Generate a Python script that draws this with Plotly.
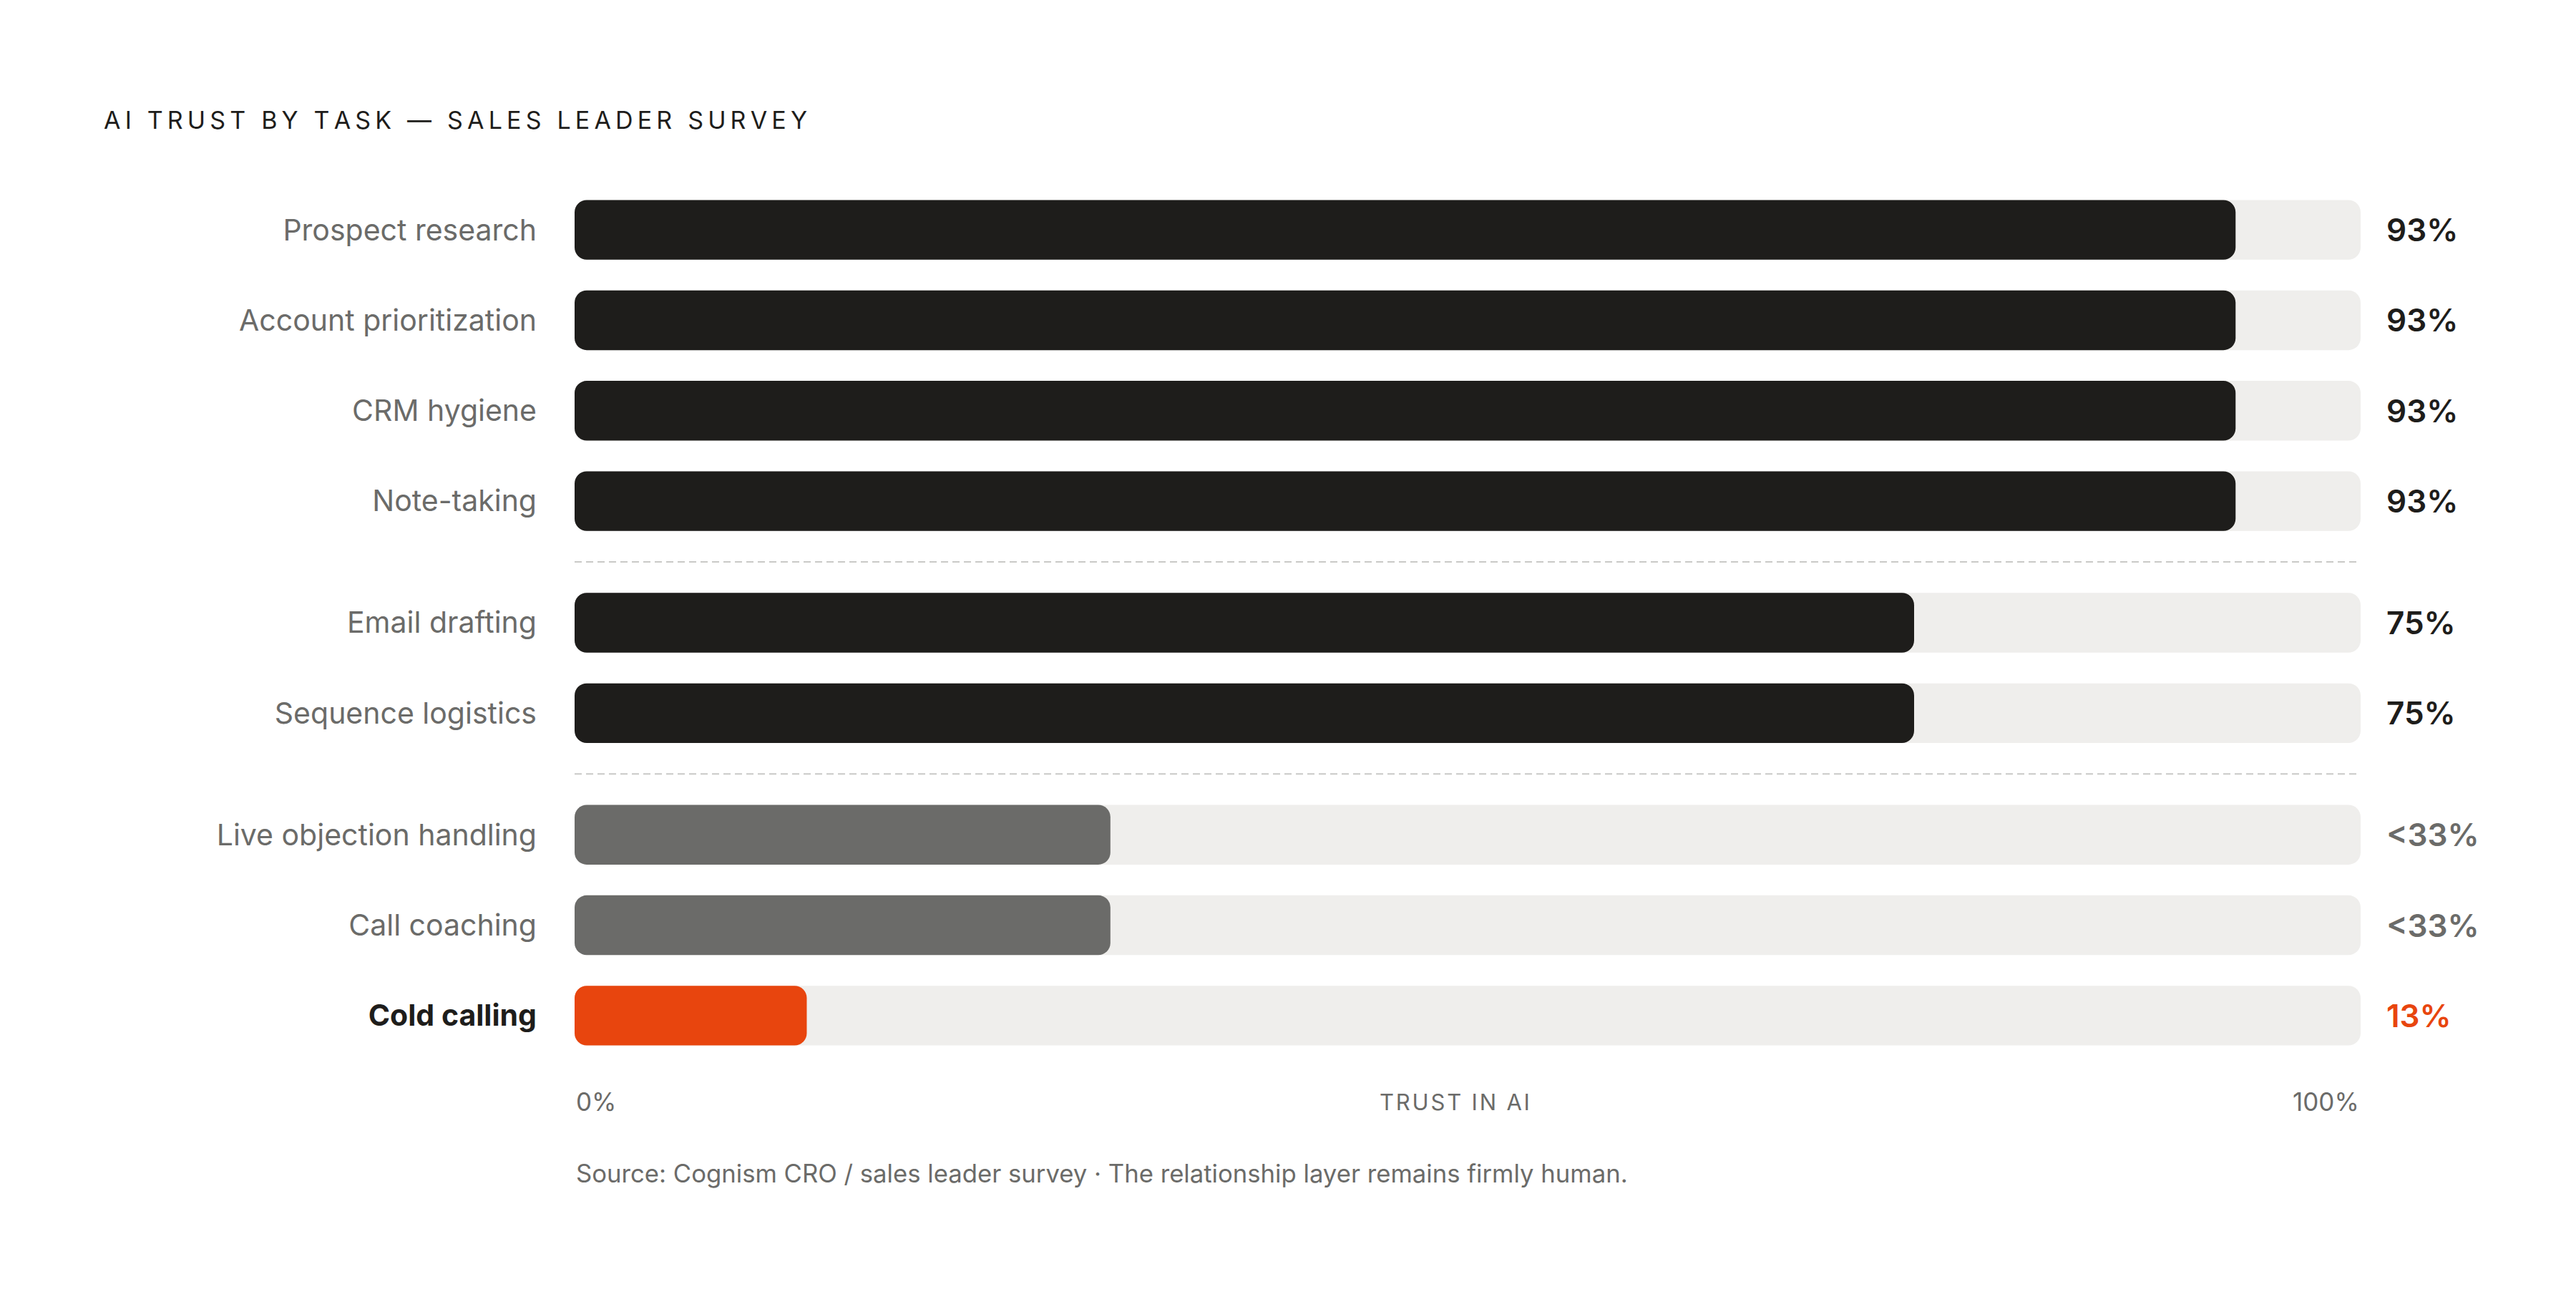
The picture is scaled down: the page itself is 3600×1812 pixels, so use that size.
import plotly.graph_objects as go

# Survey data
tasks = ["Prospect research", "Account prioritization", "CRM hygiene", "Note-taking",
         "Email drafting", "Sequence logistics",
         "Live objection handling", "Call coaching", "Cold calling"]
trust = [93, 93, 93, 93, 75, 75, 30, 30, 13]
value_labels = ["93%", "93%", "93%", "93%", "75%", "75%", "<33%", "<33%", "13%"]
groups = [0, 0, 0, 0, 1, 1, 2, 2, 2]
tiers = ["high", "high", "high", "high", "high", "high", "low", "low", "focus"]
track_max = 100

DARK = "#1e1d1b"
GREY = "#6b6b69"
ORANGE = "#e8450e"
TRACK = "#efeeec"
FONT = "Inter"
GROUP_GAP = 0.345
BAR_W = 0.66

tier_color = {"high": DARK, "low": GREY, "focus": ORANGE}
bar_colors = [tier_color[t] for t in tiers]

# row positions with a little extra space between groups
pos = [i + g * GROUP_GAP for i, g in enumerate(groups)]


def spaced(s, sep="\u2009"):
    # fake letter-spacing
    return sep.join(list(s))


fig = go.Figure()

# background track (explicit base so both ends get rounded)
fig.add_trace(go.Bar(x=[track_max] * len(tasks), base=[0] * len(tasks), y=pos, orientation="h",
                     width=BAR_W, marker=dict(color=TRACK, line_width=0),
                     hoverinfo="skip", showlegend=False))
# values
fig.add_trace(go.Bar(x=trust, base=[0] * len(tasks), y=pos, orientation="h", width=BAR_W,
                     marker=dict(color=bar_colors, line_width=0), showlegend=False,
                     hovertemplate="%{x}%<extra></extra>"))

# value labels right of the track
for p, txt, c in zip(pos, value_labels, bar_colors):
    fig.add_annotation(x=track_max, y=p, xref="x", yref="y", text=txt, showarrow=False,
                       xanchor="left", yanchor="middle", xshift=34,
                       font=dict(family=FONT, size=44, color=c, weight=600))

# dashed separators between groups
for i in range(1, len(groups)):
    if groups[i] != groups[i - 1]:
        mid = (pos[i] + pos[i - 1]) / 2
        fig.add_shape(type="line", xref="x", yref="y", x0=0, x1=track_max, y0=mid, y1=mid,
                      line=dict(color="#c9c9c7", width=2, dash="10px,6px"))

# category tick labels
ticktext = []
for t, tier in zip(tasks, tiers):
    if tier == "focus":
        ticktext.append(f"<b><span style='color:{DARK}'>{t}</span></b>")
    else:
        ticktext.append(t)

# axis annotations
fig.add_annotation(x=0, y=0, xref="x", yref="paper", text="0%", showarrow=False,
                   xanchor="left", yanchor="middle", yshift=-57,
                   font=dict(family=FONT, size=35, color=GREY))
fig.add_annotation(x=track_max / 2, y=0, xref="x", yref="paper", text=spaced("TRUST IN AI", "\u200a"),
                   showarrow=False, xanchor="center", yanchor="middle", yshift=-57, xshift=-18,
                   font=dict(family=FONT, size=31, color=GREY))
fig.add_annotation(x=track_max, y=0, xref="x", yref="paper", text="100%", showarrow=False,
                   xanchor="right", yanchor="middle", yshift=-57,
                   font=dict(family=FONT, size=35, color=GREY))
fig.add_annotation(x=0, y=0, xref="x", yref="paper",
                   text="Source: Cognism CRO / sales leader survey · The relationship layer remains firmly human.",
                   showarrow=False, xanchor="left", yanchor="middle", yshift=-157,
                   font=dict(family=FONT, size=34.7, color=GREY))

fig.update_layout(
    width=3600, height=1812,
    paper_bgcolor="white", plot_bgcolor="white",
    margin=dict(l=795, r=309, t=250, b=338),
    barmode="overlay",
    barcornerradius=17,
    title=dict(text=spaced("AI TRUST BY TASK — SALES LEADER SURVEY"),
               x=137 / 3600, xanchor="left", xref="container",
               y=1 - 160 / 1812, yanchor="middle", yref="container",
               font=dict(family=FONT, size=34, color=DARK)),
    xaxis=dict(range=[0, track_max], visible=False, fixedrange=True),
    yaxis=dict(range=[pos[-1] + 0.5, -0.5], tickvals=pos, ticktext=ticktext,
               showgrid=False, zeroline=False, showline=False, ticks="",
               ticklabelstandoff=52,
               tickfont=dict(family=FONT, size=41, color=GREY)),
    font=dict(family=FONT),
)

fig.write_html("out.html")
